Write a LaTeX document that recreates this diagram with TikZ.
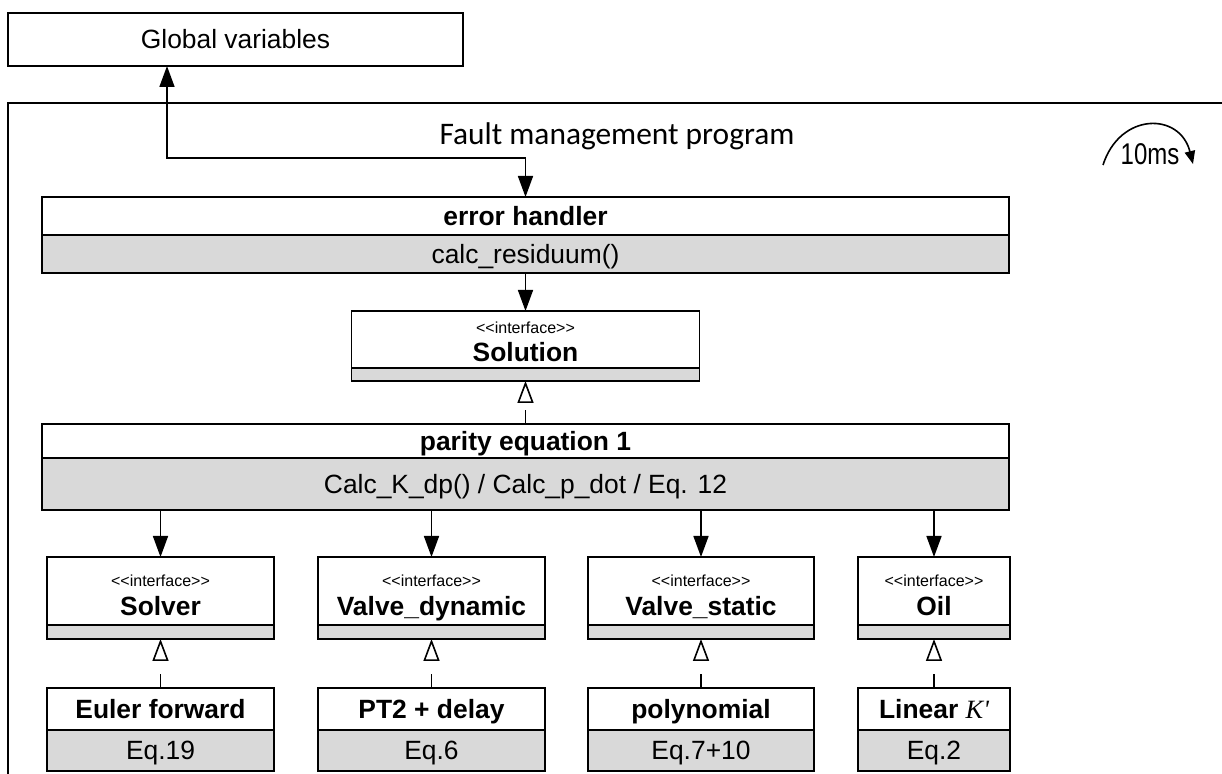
\documentclass[tikz,border=0pt]{standalone}
\usepackage{fontspec}
\setmainfont{Liberation Sans}
\newfontfamily\calfont{Carlito}
\newfontfamily\serifit{Liberation Serif}
\usetikzlibrary{arrows.meta,calc}
\definecolor{compgray}{RGB}{217,217,217}
% stereotype brackets, kept apart so they are not turned into guillemets
\newcommand\stereotype[1]{<\kern0pt<#1>\kern0pt>}

\begin{document}
\begin{tikzpicture}[x=0.5pt,y=-0.5pt,
  every node/.style={inner sep=0pt, outer sep=0pt},
  hdr/.style={draw, line width=0.8pt, fill=white, rectangle, minimum width=#1},
  cmp/.style={draw, line width=0.8pt, fill=compgray, rectangle, minimum width=#1},
  title/.style={font=\fontsize{13.2}{15}\selectfont\bfseries, text height=9.5pt, text depth=0pt},
  plain/.style={font=\fontsize{13.2}{15}\selectfont, text height=9.5pt, text depth=0pt},
  stereo/.style={font=\fontsize{8}{9}\selectfont},
  frame/.style={line width=0.8pt},
  assoc/.style={line width=0.8pt, -{Triangle[length=10.5pt,width=7.5pt]}},
  both/.style={line width=0.8pt, {Triangle[length=10.5pt,width=7.5pt]}-{Triangle[length=10.5pt,width=7.5pt]}},
  realize/.style={line width=0.8pt, dash pattern=on 6.8pt off 60pt,
    -{Triangle[open,length=11pt,width=8pt,fill=white]}},
]
\useasboundingbox (0,0) rectangle (1222,774);

% global data store
\node[hdr=227.5pt, minimum height=26.5pt, plain] (glob) at (235.5,39.5) {Global variables};

% program frame (runs past the page edges)
\draw[frame] (1240,103) -- (8,103) -- (8,800);
\node[font=\calfont\fontsize{15.7}{18}\selectfont] (fmp) at (617,136) {Fault management program};

% cycle time
\coordinate (cycA) at (1103,165);
\coordinate (cycB) at (1193,164);
\draw[line width=0.8pt, -{Triangle[length=6.5pt,width=5.2pt]}] (cycA) .. controls (1120,112) and (1180,112) .. (cycB);
\node[font=\fontsize{15}{17}\selectfont, text height=10.7pt, text depth=0pt] (cyc) at (1150,154) {\scalebox{0.8}[1]{10ms}};

% error handler
\node[hdr=483.5pt, minimum height=19pt, title] (ehT) at (525.5,216) {error handler};
\node[cmp=483.5pt, minimum height=19pt, plain] (ehB) at (525.5,254) {calc\_residuum()};

% Solution interface
\node[hdr=174pt, minimum height=28.5pt] (solT) at (525.5,339.5) {};
\node[cmp=174pt, minimum height=6.5pt, anchor=north] (solB) at (solT.south) {};
\node[stereo] (solS) at ($(solT.north)+(0,17)$) {\stereotype{interface}};
\node[title] (solN) at ($(solT.north)+(0,41)$) {Solution};

% parity equation
\node[hdr=483.5pt, minimum height=17pt, title] (parT) at (525.5,441) {parity equation 1};
\node[cmp=483.5pt, minimum height=26pt, plain] (parB) at (525.5,484) {Calc\_K\_dp() / Calc\_p\_dot / Eq. 12};

% interfaces and their implementations
\foreach \n/\cx/\w/\ti/\im/\eq in {
  solver/160.5/113.5pt/Solver/Euler forward/Eq.19,
  vdyn/431.5/113.5pt/Valve\_dynamic/PT2 + delay/Eq.6,
  vstat/701/113pt/Valve\_static/polynomial/Eq.7+10,
  oil/934/76pt/Oil/{Linear {\serifit\mdseries\itshape K'}}/Eq.2}{
  \node[hdr=\w, minimum height=34pt] (\n T) at (\cx,591) {};
  \node[cmp=\w, minimum height=7pt, anchor=north] (\n B) at (\n T.south) {};
  \node[stereo] (\n S) at ($(\n T.north)+(0,24)$) {\stereotype{interface}};
  \node[title] (\n N) at ($(\n T.north)+(0,49)$) {\ti};
  \node[hdr=\w, minimum height=21pt, title] (\n IT) at (\cx,709) {\im};
  \node[cmp=\w, minimum height=20.5pt, anchor=north, plain] (\n IB) at (\n IT.south) {\eq};
  \draw[assoc] (parB.south -| \n T.north) -- (\n T.north);
  \draw[realize] (\n IT.north) -- (\n B.south);
}

% connectors
\coordinate (bendL) at (167,158);
\coordinate (bendR) at (525.5,158);
\draw[both] (glob.south -| bendL) -- (bendL) -- (bendR) -- (ehT.north);
\draw[assoc] (ehB.south) -- (solT.north);
\draw[realize] (parT.north) -- (solB.south);
\end{tikzpicture}
\end{document}
